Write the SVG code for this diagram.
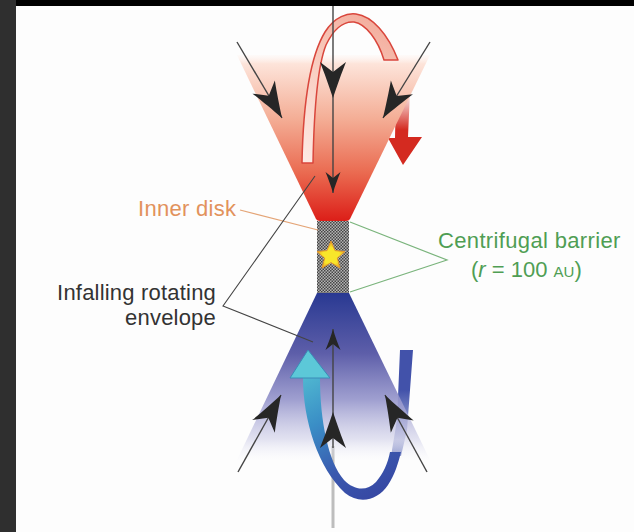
<svg xmlns="http://www.w3.org/2000/svg" width="634" height="532" viewBox="0 0 634 532">
  <style>
    .lbl { font-family: "Liberation Sans", Arial, Helvetica, sans-serif; font-size: 22px; }
    .dark { fill: #333333; }
    .orange { fill: #e2925c; }
    .green { fill: #4f9e54; }
    .shaft { stroke: #444444; stroke-width: 1.4; fill: none; }
    .leader { stroke: #444444; stroke-width: 1.1; fill: none; }
  </style>
  <defs>
    <linearGradient id="redCone" gradientUnits="userSpaceOnUse" x1="0" y1="50" x2="0" y2="221">
      <stop offset="0" stop-color="#ffffff" stop-opacity="0"/>
      <stop offset="0.08" stop-color="#fde4da"/>
      <stop offset="0.4" stop-color="#f4ae96"/>
      <stop offset="0.72" stop-color="#ea6a50"/>
      <stop offset="1" stop-color="#dc1e18"/>
    </linearGradient>
    <linearGradient id="blueCone" gradientUnits="userSpaceOnUse" x1="0" y1="293" x2="0" y2="465">
      <stop offset="0" stop-color="#293992"/>
      <stop offset="0.35" stop-color="#5d5ea9"/>
      <stop offset="0.62" stop-color="#9797cc" stop-opacity="0.92"/>
      <stop offset="0.85" stop-color="#cfcfe8" stop-opacity="0.6"/>
      <stop offset="1" stop-color="#ffffff" stop-opacity="0"/>
    </linearGradient>
    <linearGradient id="blueStrip" gradientUnits="userSpaceOnUse" x1="0" y1="390" x2="0" y2="456">
      <stop offset="0" stop-color="#4252aa"/>
      <stop offset="0.75" stop-color="#4252aa" stop-opacity="0.35"/>
      <stop offset="1" stop-color="#4252aa" stop-opacity="0.7"/>
    </linearGradient>
    <linearGradient id="redRibbon" gradientUnits="userSpaceOnUse" x1="300" y1="160" x2="395" y2="20">
      <stop offset="0" stop-color="#fdeae4"/>
      <stop offset="0.6" stop-color="#f8c8ba"/>
      <stop offset="1" stop-color="#f2a898"/>
    </linearGradient>
    <linearGradient id="redDrop" gradientUnits="userSpaceOnUse" x1="0" y1="92" x2="0" y2="130">
      <stop offset="0" stop-color="#d42a20" stop-opacity="0"/>
      <stop offset="1" stop-color="#d42a20"/>
    </linearGradient>
    <linearGradient id="blueRibbon" gradientUnits="userSpaceOnUse" x1="305" y1="370" x2="380" y2="500">
      <stop offset="0" stop-color="#52bcd2"/>
      <stop offset="0.35" stop-color="#3a8ec6"/>
      <stop offset="0.7" stop-color="#3a58ae"/>
      <stop offset="1" stop-color="#3646a2"/>
    </linearGradient>
    <radialGradient id="starFill" cx="0.5" cy="0.55" r="0.55">
      <stop offset="0.55" stop-color="#f8e62a"/>
      <stop offset="1" stop-color="#e69a22"/>
    </radialGradient>
    <pattern id="checker" patternUnits="userSpaceOnUse" width="3" height="3">
      <rect width="3" height="3" fill="#b4b4b4"/>
      <rect width="1.5" height="1.5" fill="#454545"/>
      <rect x="1.5" y="1.5" width="1.5" height="1.5" fill="#454545"/>
    </pattern>
    <marker id="headBig" markerUnits="userSpaceOnUse" markerWidth="40" markerHeight="30" viewBox="-38 -15 40 30" refX="0" refY="0" orient="auto">
      <path d="M0,0 C-12,-4 -26,-9 -36,-13 L-26,0 L-36,13 C-26,9 -12,4 0,0Z" fill="#262626"/>
    </marker>
    <marker id="headSmall" markerUnits="userSpaceOnUse" markerWidth="24" markerHeight="18" viewBox="-22 -9 24 18" refX="0" refY="0" orient="auto">
      <path d="M0,0 C-7,-2 -15,-5 -21,-7.5 L-15,0 L-21,7.5 C-15,5 -7,2 0,0Z" fill="#262626"/>
    </marker>
  </defs>

  <!-- frame and page -->
  <rect x="0" y="0" width="634" height="532" fill="#fdfdfd"/>
  <rect x="0" y="0" width="16" height="532" fill="#2f2f2f"/>
  <rect x="16" y="0" width="618" height="6" fill="#000000"/>

  <!-- lower axis, behind everything -->
  <line x1="333" y1="446" x2="333" y2="528" stroke="#bdbdbd" stroke-width="3"/>

  <!-- back strip of the blue ribbon, passes behind the lower cone -->
  <path d="M400,350 L413,350 L407,430 L401,456 L391,456 L397,420 Z" fill="url(#blueStrip)"/>

  <!-- outflow drop of the red ribbon -->
  <path d="M396,92 L410,92 L408,137 L422,137 L403,165 L388,138 L395,138 Z" fill="url(#redDrop)"/>

  <g id="upper-cone">
    <path d="M237,55 L430,55 L350,219 Q349,221 346,221 L320,221 Q317,221 316,219 Z" fill="url(#redCone)"/>
  </g>

  <g id="lower-cone">
    <path d="M317,293 L349,293 L430,460 L237,460 Z" fill="url(#blueCone)"/>
  </g>

  <g id="barrier">
    <rect x="317" y="221" width="32" height="72" fill="url(#checker)"/>
  </g>

  <g id="star">
    <path d="M331,241 L335,250.6 L345,251.6 L337.3,258.1 L340,268 L331,262.6 L322,268 L324.7,258.1 L317,251.6 L327,250.6 Z" fill="url(#starFill)" stroke="#e0962c" stroke-width="1"/>
  </g>

  <g id="red-ribbon">
    <path d="M302,163 C303,110 308,60 325,32 C335,16 348,13 356,14 C372,16 388,34 398,60 L384,60 C378,40 366,24 354,22 C343,21 333,30 326,45 C318,65 314,110 313,163 Z" fill="url(#redRibbon)" stroke="#d9463c" stroke-width="1.5" stroke-linejoin="round"/>
  </g>

  <g id="blue-ribbon">
    <path d="M303,378 C303,420 318,468 345,493 C360,505 378,500 388,485 C395,474 398,464 401,452 L390,452 C388,463 383,474 376,482 C366,492 354,490 344,480 C328,462 320,420 320,378 Z" fill="url(#blueRibbon)"/>
    <path d="M290,378 L308,350 L330,378 Z" fill="#5cc8d8" stroke="#3a8cb8" stroke-width="1" stroke-linejoin="round"/>
  </g>

  <g id="connectors">
    <!-- rotation axis and infall arrows, upper half -->
    <line class="shaft" x1="333" y1="6" x2="333" y2="98" marker-end="url(#headBig)"/>
    <line class="shaft" x1="333" y1="98" x2="333" y2="193" marker-end="url(#headSmall)"/>
    <line class="shaft" x1="237" y1="42" x2="282" y2="118" marker-end="url(#headBig)"/>
    <line class="shaft" x1="430" y1="42" x2="383" y2="118" marker-end="url(#headBig)"/>
    <!-- lower half -->
    <line class="shaft" x1="333" y1="448" x2="333" y2="412" marker-end="url(#headBig)"/>
    <line class="shaft" x1="333" y1="412" x2="333" y2="329" marker-end="url(#headSmall)"/>
    <line class="shaft" x1="238" y1="472" x2="281" y2="395" marker-end="url(#headBig)"/>
    <line class="shaft" x1="427" y1="472" x2="385" y2="395" marker-end="url(#headBig)"/>

    <!-- label leaders -->
    <path d="M240,210 L318,230" stroke="#e4a476" stroke-width="1.2" fill="none"/>
    <path class="leader" d="M315,176 L223,306 L313,342"/>
    <path d="M350,222 L447,260 L350,292" stroke="#7ab47c" stroke-width="1.2" fill="none"/>
  </g>

  <g id="labels">
    <text class="lbl orange" x="138" y="216" letter-spacing="0.3">Inner disk</text>
    <text class="lbl dark" x="216" y="300" text-anchor="end" letter-spacing="0.2">Infalling rotating</text>
    <text class="lbl dark" x="216" y="325" text-anchor="end" letter-spacing="0.2">envelope</text>
    <text class="lbl green" x="438" y="248" letter-spacing="0.35">Centrifugal barrier</text>
    <text class="lbl green" x="471" y="277">(<tspan font-style="italic">r</tspan> = 100 <tspan font-size="15">AU</tspan>)</text>
  </g>
</svg>
